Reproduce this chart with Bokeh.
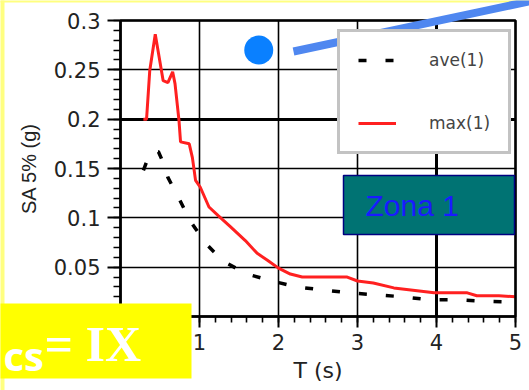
import numpy as np
from bokeh.plotting import figure
from bokeh.models import (Range1d, FixedTicker, Legend, LegendItem, BoxAnnotation,
                          Label, Arrow, Grid)
from bokeh.embed import file_html
from bokeh.resources import INLINE

# ---------------- data ----------------
T_max = [0.29, 0.33, 0.37, 0.44, 0.54, 0.60, 0.66, 0.69, 0.74, 0.76, 0.87, 0.91,
         0.95, 1.01, 1.12, 1.24, 1.39, 1.58, 1.73, 1.86, 2.00, 2.15, 2.30, 2.87,
         3.00, 3.20, 3.46, 3.97, 4.39, 4.51, 4.79, 5.00]
SA_max = [0.200, 0.200, 0.249, 0.286, 0.239, 0.237, 0.248, 0.236, 0.199, 0.177,
          0.175, 0.161, 0.138, 0.131, 0.111, 0.102, 0.091, 0.077, 0.064, 0.057,
          0.049, 0.043, 0.040, 0.040, 0.036, 0.034, 0.029, 0.024, 0.024, 0.021,
          0.021, 0.020]

T_ave = [0.29, 0.36, 0.42, 0.48, 0.53, 0.60, 0.75, 0.89, 1.08, 1.30, 1.60, 1.92,
         2.22, 2.55, 2.89, 3.23, 3.57, 3.90, 4.24, 4.58, 5.00]
SA_ave = [0.148, 0.163, 0.168, 0.167, 0.158, 0.141, 0.118, 0.096, 0.074, 0.056,
          0.043, 0.036, 0.030, 0.027, 0.024, 0.022, 0.020, 0.017, 0.017, 0.0155,
          0.0145]

series_labels = ["ave(1)", "max(1)"]
x_ticks = [0, 1, 2, 3, 4, 5]
x_tick_labels = ["0", "1", "2", "3", "4", "5"]
y_ticks = [0, 0.05, 0.1, 0.15, 0.2, 0.25, 0.3]
y_tick_labels = ["0", "0.05", "0.1", "0.15", "0.2", "0.25", "0.3"]
x_label = "T (s)"
y_label = "SA 5% (g)"
marker_T = [1.75]
marker_SA = [0.27]
zone_label = "Zona 1"
badge_sub = "cs"
badge_main = "= IX"

# ---------------- layout (canvas pixels) ----------------
W, H = 529, 390
FL, FR, FT, FB = 120, 515, 20, 316          # where the data box sits
XMIN, XMAX, YMIN, YMAX = 0.0, 5.0, 0.0, 0.3
sx = (FR - FL) / (XMAX - XMIN)
sy = (FB - FT) / (YMAX - YMIN)


def dx(px):
    return XMIN + (px - FL) / sx


def dy(py):
    return YMIN + (FB - py) / sy


p = figure(frame_width=W, frame_height=H, min_border=0,
           min_border_left=0, min_border_right=0, min_border_top=0, min_border_bottom=0,
           x_range=Range1d(dx(0), dx(W)), y_range=Range1d(dy(H), dy(0)),
           output_backend="svg", toolbar_location=None,
           background_fill_color="white", border_fill_color="white")
p.outline_line_color = None

# slide edge strips
p.add_layout(BoxAnnotation(left=dx(-5), right=dx(W + 5), top=dy(-5), bottom=dy(2),
                           fill_color="#ffff80", fill_alpha=1.0, line_alpha=0))
p.add_layout(BoxAnnotation(left=dx(-5), right=dx(4), top=dy(-5), bottom=dy(H + 5),
                           fill_color="#ffff80", fill_alpha=1.0, line_alpha=0))

# axes pinned at the data origin
x_minor = [round(v, 2) for v in np.arange(XMIN, XMAX + 1e-9, 0.2)]
y_minor = [round(v, 3) for v in np.arange(YMIN, YMAX + 1e-9, 0.01)]
p.xaxis.ticker = FixedTicker(ticks=x_ticks, minor_ticks=x_minor)
p.yaxis.ticker = FixedTicker(ticks=y_ticks, minor_ticks=y_minor)
p.xaxis.major_label_overrides = {t: l for t, l in zip(x_ticks, x_tick_labels)}
p.yaxis.major_label_overrides = {t: l for t, l in zip(y_ticks, y_tick_labels)}
p.xaxis.fixed_location = YMIN
p.yaxis.fixed_location = XMIN
p.xaxis.bounds = (XMIN, XMAX)
p.yaxis.bounds = (YMIN, YMAX)

for ax in (p.xaxis[0], p.yaxis[0]):
    ax.axis_line_color = "black"
    ax.axis_line_width = 2
    ax.major_tick_line_color = "black"
    ax.minor_tick_line_color = "black"
    ax.major_tick_line_width = 2
    ax.minor_tick_line_width = 1.6
    ax.major_tick_in = 0
    ax.minor_tick_in = 0
    ax.major_label_text_font = "DejaVu Sans"
    ax.major_label_text_font_size = "21px"
    ax.major_label_text_color = "#222222"
    ax.axis_label_text_font_style = "normal"
    ax.axis_label_text_color = "#222222"

p.xaxis.major_tick_out = 11
p.xaxis.minor_tick_out = 6
p.xaxis.major_label_standoff = 6
p.xaxis.axis_label = x_label
p.xaxis.axis_label_text_font = "DejaVu Sans"
p.xaxis.axis_label_text_font_size = "22px"
p.xaxis.axis_label_standoff = 5

p.yaxis.major_tick_out = 13
p.yaxis.minor_tick_out = 7
p.yaxis.major_label_standoff = 7
p.yaxis.axis_label = y_label
p.yaxis.axis_label_text_font = "Liberation Sans"
p.yaxis.axis_label_text_font_size = "20px"
p.yaxis.axis_label_standoff = 11

# grid limited to the data box
p.xgrid.ticker = FixedTicker(ticks=x_ticks)
p.ygrid.ticker = FixedTicker(ticks=y_ticks)
p.xgrid.bounds = (XMIN, XMAX)
p.ygrid.bounds = (YMIN, YMAX)
p.xgrid.cross_bounds = (YMIN, YMAX)
p.ygrid.cross_bounds = (XMIN, XMAX)
p.grid.grid_line_color = "black"
p.grid.grid_line_width = 1.6
p.grid.grid_line_alpha = 1.0
# heavier grid lines
p.add_layout(Grid(dimension=0, ticker=FixedTicker(ticks=[4]), bounds=(XMIN, XMAX),
                  cross_bounds=(YMIN, YMAX), grid_line_color="black", grid_line_width=3))
p.add_layout(Grid(dimension=1, ticker=FixedTicker(ticks=[0.2]), bounds=(YMIN, YMAX),
                  cross_bounds=(XMIN, XMAX), grid_line_color="black", grid_line_width=3))

# series
r_ave = p.line(T_ave, SA_ave, line_color="black", line_width=3.5, line_dash="8 19")
r_max = p.line(T_max, SA_max, line_color="#ff2020", line_width=3)

# data box frame
p.add_layout(BoxAnnotation(left=XMIN, right=XMAX, bottom=YMIN, top=YMAX,
                           fill_alpha=0, line_color="black", line_width=2.5,
                           line_alpha=1.0))

# marker dot
p.scatter(marker_T, marker_SA, size=29, fill_color="#0a80ff", line_color=None)

# legend
legend = Legend(items=[LegendItem(label=series_labels[0], renderers=[r_ave]),
                       LegendItem(label=series_labels[1], renderers=[r_max])],
                location=(337, H - 154), orientation="vertical",
                padding=18, spacing=43, margin=0,
                glyph_width=38, glyph_height=20, label_standoff=33,
                label_height=20, label_width=61,
                label_text_font="DejaVu Sans", label_text_font_size="17px",
                label_text_color="#444444",
                border_line_color="#888888", border_line_width=3,
                background_fill_color="white", background_fill_alpha=1.0)
p.add_layout(legend)

# pointer line (drawn over the legend)
p.add_layout(Arrow(end=None, x_start=dx(293), y_start=dy(51),
                   x_end=dx(540), y_end=dy(-1.5),
                   line_color="#4f87f0", line_width=8))

# zone box
p.add_layout(BoxAnnotation(left=dx(343), right=dx(514), top=dy(175), bottom=dy(234),
                           fill_color="#007373", fill_alpha=1.0,
                           line_color="#000080", line_width=1.5, line_alpha=1.0))
p.add_layout(Label(x=dx(365), y=dy(204.5), text=zone_label,
                   text_font="Liberation Sans", text_font_size="30px",
                   text_color="#1a1aff", text_baseline="middle"))

# yellow badge
p.add_layout(BoxAnnotation(left=dx(-5), right=dx(191), top=dy(303), bottom=dy(378),
                           fill_color="#ffff00", fill_alpha=1.0, line_alpha=0))
p.add_layout(Label(x=dx(3), y=dy(355), text=badge_sub,
                   text_font="Open Sans", text_font_style="bold",
                   text_font_size="40px", text_color="white",
                   text_baseline="middle"))
p.add_layout(Label(x=dx(44), y=dy(343), text=badge_main,
                   text_font="Liberation Serif", text_font_style="bold",
                   text_font_size="50px", text_color="white",
                   text_baseline="middle"))

open("out.html", "w").write(file_html(p, INLINE))
